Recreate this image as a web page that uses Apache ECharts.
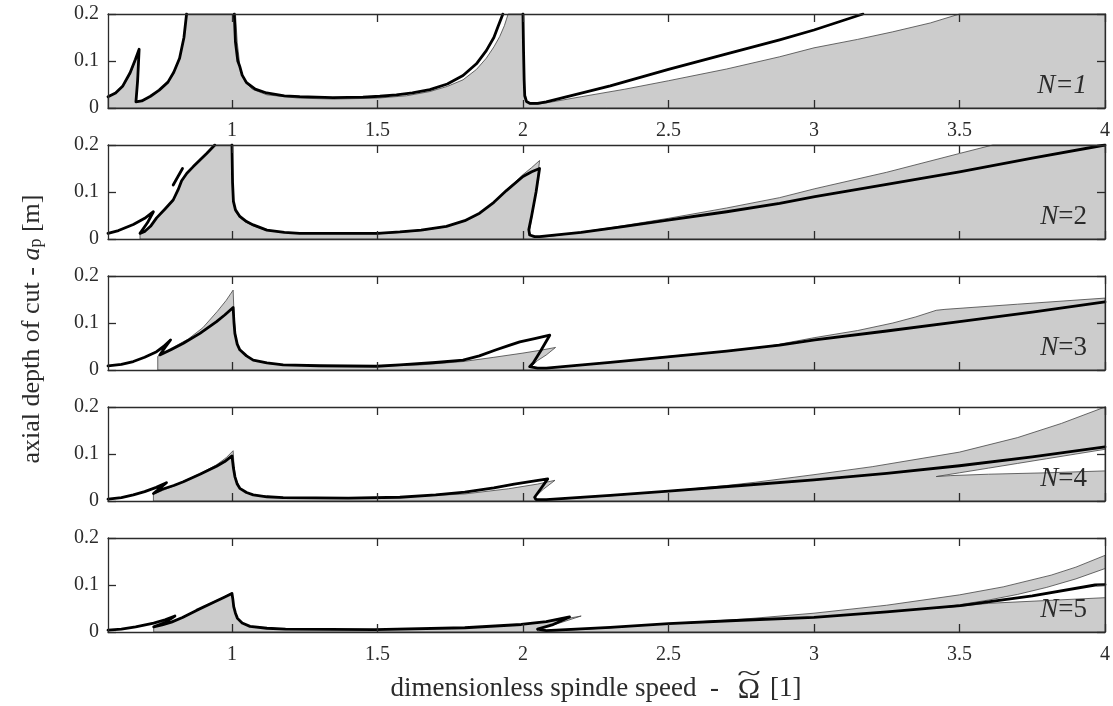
<!DOCTYPE html>
<html>
<head>
<meta charset="utf-8">
<script src="https://cdn.jsdelivr.net/npm/echarts@6/dist/echarts.min.js"></script>
<style>
  html, body { margin: 0; padding: 0; background: #fff; }
  #main { width: 1113px; height: 706px; }
</style>
</head>
<body>
<div id="main"></div>
<script>
// axis ticks
var xTicks = [1, 1.5, 2, 2.5, 3, 3.5, 4];
var yTicks = [0, 0.1, 0.2];
var panelNames = ['1', '2', '3', '4', '5'];

// gray (stable) regions, one polygon per panel
var gray1 = [[0.574,0],[0.574,0.024],[0.600,0.031],[0.625,0.045],[0.650,0.072],[0.668,0.100],[0.681,0.125],[0.670,0.013],[0.690,0.015],[0.720,0.025],[0.750,0.037],[0.780,0.054],[0.800,0.074],[0.820,0.105],[0.835,0.150],[0.844,0.2],
  [1.012,0.2],[1.018,0.14],[1.028,0.085],[1.045,0.055],[1.07,0.040],[1.12,0.028],[1.23,0.021],[1.35,0.019],[1.5,0.021],[1.6,0.026],[1.68,0.035],[1.74,0.046],[1.794,0.060],[1.84,0.082],[1.874,0.106],[1.90,0.130],[1.92,0.152],[1.936,0.175],[1.949,0.2],
  [2.0,0.2],[2.002,0.12],[2.005,0.04],[2.012,0.015],[2.025,0.008],[2.05,0.008],[2.1,0.013],[2.2,0.024],[2.35,0.040],[2.5,0.058],[2.7,0.083],[2.882,0.109],[3.0,0.128],[3.15,0.146],[3.27,0.162],[3.4,0.181],[3.5,0.2],[4,0.2],[4,0]];
var gray2 = [[0.684,0],[0.684,0.011],[0.70,0.016],[0.72,0.027],[0.741,0.045],[0.77,0.064],[0.798,0.083],[0.815,0.105],[0.827,0.124],[0.845,0.140],[0.867,0.154],[0.89,0.168],[0.913,0.182],[0.941,0.2],
  [1.0,0.2],[1.002,0.12],[1.006,0.075],[1.015,0.056],[1.03,0.044],[1.05,0.035],[1.073,0.028],[1.12,0.018],[1.18,0.014],[1.23,0.012],[1.5,0.011],[1.58,0.014],[1.65,0.018],[1.737,0.026],[1.80,0.039],[1.851,0.055],[1.90,0.078],[1.943,0.104],[2.0,0.137],[2.03,0.152],[2.057,0.167],[2.045,0.10],[2.03,0.045],[2.022,0.015],[2.03,0.005],[2.06,0.004],[2.1,0.006],[2.3,0.024],[2.5,0.044],[2.7,0.066],[2.882,0.088],[3.003,0.107],[3.25,0.142],[3.5,0.182],[3.614,0.2],[4,0.2],[4,0]];
var gray3 = [[0.745,0],[0.745,0.029],[0.76,0.036],[0.80,0.049],[0.85,0.066],[0.90,0.090],[0.95,0.125],[0.98,0.148],[1.004,0.170],[1.007,0.12],[1.012,0.075],[1.02,0.052],[1.027,0.043],[1.05,0.029],[1.073,0.021],[1.12,0.014],[1.176,0.011],[1.5,0.008],[1.65,0.011],[1.794,0.018],[1.90,0.027],[2.0,0.036],[2.06,0.042],[2.112,0.048],[2.08,0.032],[2.05,0.02],[2.03,0.008],[2.05,0.004],[2.08,0.004],[2.3,0.016],[2.5,0.029],[2.7,0.040],[2.813,0.047],[3.003,0.069],[3.15,0.084],[3.271,0.100],[3.35,0.113],[3.42,0.127],[3.45,0.129],[3.7,0.140],[4.0,0.153],[4,0]];
var gray4 = [[0.730,0],[0.730,0.015],[0.76,0.022],[0.80,0.032],[0.833,0.042],[0.890,0.058],[0.947,0.077],[0.98,0.092],[1.004,0.107],[1.007,0.075],[1.012,0.05],[1.027,0.027],[1.05,0.018],[1.073,0.013],[1.176,0.007],[1.5,0.006],[1.8,0.015],[1.95,0.026],[2.05,0.036],[2.11,0.044],[2.07,0.025],[2.04,0.008],[2.04,0.003],[2.1,0.003],[2.3,0.011],[2.5,0.021],[2.7,0.033],[2.8,0.040],[3.0,0.056],[3.2,0.073],[3.5,0.104],[3.7,0.135],[3.85,0.165],[4.0,0.2],[4,0]];
var gray5 = [[0.731,0],[0.731,0.011],[0.76,0.015],[0.792,0.021],[0.83,0.031],[0.878,0.047],[0.939,0.065],[0.97,0.074],[1.0,0.084],[1.006,0.055],[1.019,0.029],[1.04,0.018],[1.062,0.012],[1.184,0.006],[1.49,0.005],[1.80,0.009],[1.994,0.016],[2.1,0.023],[2.2,0.034],[2.12,0.018],[2.05,0.006],[2.05,0.002],[2.1,0.002],[2.3,0.009],[2.5,0.018],[2.75,0.027],[3.0,0.040],[3.25,0.057],[3.5,0.079],[3.65,0.096],[3.815,0.121],[3.9,0.138],[4.0,0.163],[4,0]];

// white (unstable) islands inside the gray
var hole4 = [[3.42,0.052],[3.5,0.06],[3.6,0.07],[3.7,0.08],[3.8,0.090],[3.9,0.100],[4.0,0.110],[4.0,0.064],[3.8,0.060],[3.6,0.057],[3.47,0.054]];
var hole5 = [[3.42,0.051],[3.5,0.058],[3.6,0.068],[3.7,0.08],[3.8,0.095],[3.9,0.113],[4.0,0.135],[4.0,0.073],[3.8,0.067],[3.6,0.061],[3.47,0.053]];

// thick black boundaries
var line1a = [[0.574,0.024],[0.600,0.032],[0.625,0.047],[0.650,0.075],[0.668,0.103],[0.681,0.125],[0.676,0.06],[0.670,0.013],[0.690,0.015],[0.720,0.025],[0.750,0.038],[0.780,0.055],[0.800,0.076],[0.820,0.106],[0.835,0.15],[0.844,0.2]];
var line1b = [[1.008,0.2],[1.012,0.14],[1.02,0.10],[1.027,0.088],[1.035,0.07],[1.050,0.054],[1.08,0.040],[1.119,0.032],[1.18,0.026],[1.233,0.024],[1.347,0.022],[1.45,0.023],[1.508,0.025],[1.565,0.028],[1.62,0.032],[1.68,0.039],[1.74,0.051],[1.794,0.069],[1.84,0.094],[1.874,0.122],[1.90,0.150],[1.914,0.173],[1.931,0.2]];
var line1c = [[2.0,0.2],[2.002,0.12],[2.004,0.06],[2.006,0.026],[2.012,0.014],[2.023,0.010],[2.05,0.010],[2.08,0.013],[2.3,0.047],[2.5,0.082],[2.7,0.115],[2.882,0.145],[3.0,0.166],[3.168,0.2]];
var line2a = [[0.574,0.012],[0.61,0.018],[0.661,0.031],[0.70,0.044],[0.730,0.058],[0.71,0.035],[0.684,0.012],[0.70,0.016],[0.72,0.027],[0.741,0.045],[0.77,0.064],[0.798,0.083],[0.815,0.105],[0.827,0.124],[0.845,0.140],[0.867,0.154],[0.89,0.168],[0.913,0.182],[0.941,0.2]];
var line2b = [[0.798,0.115],[0.830,0.150]];
var line2c = [[1.0,0.2],[1.002,0.12],[1.005,0.08],[1.012,0.062],[1.027,0.048],[1.05,0.037],[1.073,0.030],[1.12,0.019],[1.18,0.014],[1.233,0.012],[1.5,0.012],[1.577,0.015],[1.65,0.019],[1.737,0.027],[1.80,0.039],[1.851,0.055],[1.90,0.078],[1.943,0.103],[2.0,0.133],[2.03,0.143],[2.057,0.150],[2.045,0.10],[2.03,0.05],[2.02,0.02],[2.023,0.0085],[2.04,0.005],[2.057,0.005],[2.2,0.014],[2.35,0.027],[2.498,0.040],[2.7,0.058],[2.882,0.076],[3.003,0.090],[3.25,0.116],[3.5,0.143],[3.75,0.172],[4.0,0.2]];
var line3a = [[0.574,0.009],[0.62,0.012],[0.661,0.018],[0.70,0.027],[0.741,0.039],[0.765,0.050],[0.789,0.064],[0.77,0.048],[0.752,0.032],[0.79,0.043],[0.833,0.057],[0.890,0.078],[0.947,0.103],[0.975,0.117],[1.004,0.133],[1.007,0.10],[1.010,0.078],[1.018,0.055],[1.027,0.043],[1.05,0.030],[1.073,0.021],[1.12,0.015],[1.176,0.011],[1.3,0.009],[1.497,0.008],[1.577,0.011],[1.7,0.016],[1.794,0.021],[1.85,0.030],[1.908,0.043],[1.95,0.052],[1.989,0.060],[2.04,0.067],[2.092,0.074],[2.06,0.04],[2.035,0.015],[2.023,0.007],[2.05,0.004],[2.080,0.004],[2.3,0.016],[2.498,0.028],[2.7,0.040],[2.882,0.053],[3.003,0.064],[3.25,0.083],[3.5,0.103],[3.75,0.123],[4.0,0.145]];
var line4a = [[0.574,0.004],[0.62,0.007],[0.661,0.013],[0.70,0.020],[0.74,0.029],[0.775,0.039],[0.75,0.026],[0.730,0.016],[0.76,0.025],[0.80,0.033],[0.833,0.041],[0.890,0.057],[0.947,0.074],[0.975,0.084],[1.0,0.096],[1.005,0.07],[1.010,0.052],[1.018,0.036],[1.027,0.027],[1.05,0.018],[1.073,0.013],[1.12,0.009],[1.176,0.007],[1.4,0.006],[1.577,0.008],[1.7,0.013],[1.8,0.019],[1.9,0.028],[1.97,0.036],[2.03,0.042],[2.085,0.047],[2.06,0.025],[2.04,0.008],[2.045,0.003],[2.08,0.003],[2.3,0.012],[2.5,0.021],[2.75,0.033],[3.0,0.045],[3.25,0.059],[3.5,0.075],[3.75,0.094],[4.0,0.115]];
var line5a = [[0.574,0.004],[0.62,0.006],[0.669,0.011],[0.731,0.019],[0.77,0.026],[0.804,0.034],[0.77,0.02],[0.731,0.011],[0.76,0.015],[0.792,0.021],[0.83,0.031],[0.878,0.046],[0.939,0.064],[0.97,0.073],[1.0,0.082],[1.003,0.07],[1.006,0.054],[1.012,0.04],[1.019,0.029],[1.035,0.019],[1.062,0.012],[1.12,0.008],[1.184,0.006],[1.49,0.005],[1.80,0.009],[1.994,0.016],[2.08,0.022],[2.16,0.032],[2.10,0.015],[2.05,0.006],[2.045,0.003],[2.08,0.003],[2.3,0.010],[2.5,0.018],[2.75,0.025],[3.0,0.031],[3.25,0.043],[3.503,0.056],[3.75,0.077],[3.966,0.100],[4.0,0.101]];

var grays = [gray1, gray2, gray3, gray4, gray5];
var holes = [[], [], [], [hole4], [hole5]];
var lines = [[line1a, line1b, line1c], [line2a, line2b, line2c], [line3a], [line4a], [line5a]];

(function () {
  var FONT = 'Liberation Serif';
  var INK = '#2b2b2b';
  var X0 = 0.574, X1 = 4;
  var TOP0 = 14, PITCH = 131, PH = 94, LEFT = 108, PW = 997;

  var grid = [], xAxis = [], yAxis = [], series = [], graphic = [];
  var axisLine = { show: true, onZero: false, lineStyle: { color: INK, width: 1.3 } };
  var tickLine = { color: INK, width: 1.3 };

  function polySeries(i, poly, fill, z) {
    return {
      type: 'custom', xAxisIndex: i, yAxisIndex: i, data: poly, silent: true, animation: false, z: z,
      renderItem: function (params, api) {
        if (params.dataIndex !== 0) return null;
        return {
          type: 'polygon',
          shape: { points: poly.map(function (p) { return api.coord(p); }) },
          style: { fill: fill, stroke: '#444', lineWidth: 0.8 }
        };
      }
    };
  }

  for (var i = 0; i < 5; i++) {
    var panelTop = TOP0 + PITCH * i;
    grid.push({ left: LEFT, top: panelTop, width: PW, height: PH });
    var showX = (i === 0 || i === 4);
    xAxis.push({
      gridIndex: i, type: 'value', min: X0, max: X1, position: 'bottom', z: 10,
      axisLine: axisLine,
      axisTick: { show: true, inside: true, length: 8, customValues: xTicks, lineStyle: tickLine },
      axisLabel: { show: showX, customValues: xTicks, margin: 13, color: INK, fontFamily: FONT, fontSize: 20,
        formatter: function (v) { return String(v); } },
      splitLine: { show: false }
    });
    yAxis.push({
      gridIndex: i, type: 'value', min: 0, max: 0.2, interval: 0.1, position: 'left', z: 10,
      axisLine: axisLine,
      axisTick: { show: true, inside: true, length: 8, lineStyle: tickLine },
      axisLabel: { margin: 9, color: INK, fontFamily: FONT, fontSize: 20,
        formatter: function (v) { return v === 0 ? '0' : v.toFixed(1); } },
      splitLine: { show: false }
    });

    series.push(polySeries(i, grays[i], '#cccccc', 1));
    holes[i].forEach(function (h) { series.push(polySeries(i, h, '#ffffff', 2)); });
    lines[i].forEach(function (seg) {
      series.push({
        type: 'line', xAxisIndex: i, yAxisIndex: i, data: seg, showSymbol: false, symbol: 'none',
        silent: true, animation: false, z: 3, clip: true,
        lineStyle: { color: '#000', width: 2.8, join: 'round', cap: 'round' }
      });
    });

    var rich = i === 0
      ? '{i|N=' + panelNames[i] + '}'
      : '{i|N}{r|=' + panelNames[i] + '}';
    graphic.push({
      type: 'text', right: 1113 - 1087, top: panelTop + PH - 36, z: 20,
      style: {
        text: rich, fill: INK,
        rich: {
          i: { fontFamily: FONT, fontStyle: 'italic', fontSize: 27, fill: INK },
          r: { fontFamily: FONT, fontSize: 27, fill: INK }
        }
      }
    });
  }

  // mirror axes on top / right for the boxed look
  for (var j = 0; j < 5; j++) {
    xAxis.push({
      gridIndex: j, type: 'value', min: X0, max: X1, position: 'top', z: 10,
      axisLine: axisLine,
      axisTick: { show: true, inside: true, length: 8, customValues: xTicks, lineStyle: tickLine },
      axisLabel: { show: false }, splitLine: { show: false }
    });
    yAxis.push({
      gridIndex: j, type: 'value', min: 0, max: 0.2, interval: 0.1, position: 'right', z: 10,
      axisLine: axisLine,
      axisTick: { show: true, inside: true, length: 8, lineStyle: tickLine },
      axisLabel: { show: false }, splitLine: { show: false }
    });
  }

  // x title, with the tilde over Omega drawn on its own
  graphic.push({
    type: 'text', x: 719, y: 689, z: 20,
    style: { text: 'dimensionless spindle speed  -', fill: INK, fontFamily: FONT, fontSize: 27,
      align: 'right', verticalAlign: 'middle' }
  });
  graphic.push({
    type: 'text', x: 749, y: 690, z: 20,
    style: { text: '\u03A9', fill: INK, fontFamily: FONT, fontSize: 30, align: 'center', verticalAlign: 'middle' }
  });
  graphic.push({
    type: 'text', x: 749, y: 674, scaleX: 1.7, z: 20,
    style: { text: '~', fill: INK, fontFamily: FONT, fontSize: 26, align: 'center', verticalAlign: 'middle' }
  });
  graphic.push({
    type: 'text', x: 770, y: 689, z: 20,
    style: { text: '[1]', fill: INK, fontFamily: FONT, fontSize: 27, align: 'left', verticalAlign: 'middle' }
  });

  // y title
  graphic.push({
    type: 'text', x: 28, y: 329, rotation: Math.PI / 2, z: 20,
    style: {
      text: '{t|axial depth of cut - }{i|a}{s|p}{t| [m]}',
      align: 'center', verticalAlign: 'middle',
      rich: {
        t: { fontFamily: FONT, fontSize: 26, fill: INK, lineHeight: 34, verticalAlign: 'bottom' },
        i: { fontFamily: FONT, fontSize: 26, fontStyle: 'italic', fill: INK, lineHeight: 34, verticalAlign: 'bottom' },
        s: { fontFamily: FONT, fontSize: 18, fill: INK, lineHeight: 14, verticalAlign: 'bottom' }
      }
    }
  });

  var chart = echarts.init(document.getElementById('main'), null, { renderer: 'canvas' });
  chart.setOption({
    backgroundColor: '#ffffff',
    animation: false,
    grid: grid,
    xAxis: xAxis,
    yAxis: yAxis,
    series: series,
    graphic: graphic
  });
})();
</script>
</body>
</html>
